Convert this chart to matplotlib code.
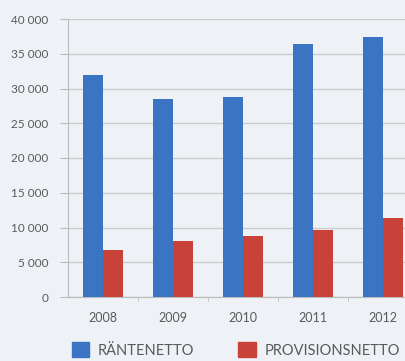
import numpy as np
import matplotlib
matplotlib.use('Agg')
import matplotlib.pyplot as plt
from matplotlib.patches import Patch

years = ['2008', '2009', '2010', '2011', '2012']
rantenetto = [32000, 28500, 28800, 36400, 37400]
provisionsnetto = [6700, 8000, 8800, 9600, 11400]
yticks = [0, 5000, 10000, 15000, 20000, 25000, 30000, 35000, 40000]

plt.rcParams['font.family'] = ['Lato', 'DejaVu Sans']

bg = '#eef2f6'
blue = '#3b74c2'
red = '#c8423a'

fig = plt.figure(figsize=(4.06, 3.61), dpi=100, facecolor=bg)
ax = fig.add_axes([68 / 406, 1 - 297 / 361, (406 - 68) / 406, 278 / 361])
ax.set_facecolor(bg)

x = np.arange(len(years))
w = 20 / 70
ax.bar(x - w / 2, rantenetto, w, color=blue, zorder=3)
ax.bar(x + w / 2, provisionsnetto, w, color=red, zorder=3)

ax.set_ylim(0, 40000)
ax.set_xlim(-0.5, (406 - 68) / 70 - 0.5)
ax.set_yticks(yticks)
ax.set_yticklabels([f'{v:,}'.replace(',', ' ') for v in yticks],
                   fontsize=8.5, color='#5a5a5a')
ax.yaxis.grid(True, color='#cccccc', linewidth=1, zorder=0)

ax.set_xticks(x)
ax.set_xticklabels(years, fontsize=9, color='#5a5a5a')
ax.set_xticks(x[:-1] + 0.5, minor=True)
ax.tick_params(axis='x', which='major', length=0, pad=11)
ax.tick_params(axis='x', which='minor', length=3, color='#bbbbbb')
ax.tick_params(axis='y', length=6, color='#bbbbbb', pad=8)

for s in ['top', 'right']:
    ax.spines[s].set_visible(False)
ax.spines['left'].set_color('#bbbbbb')
ax.spines['bottom'].set_color('#bbbbbb')

handles = [Patch(color=blue, label='RÄNTENETTO'),
           Patch(color=red, label='PROVISIONSNETTO')]
fig.legend(handles=handles, loc='center', bbox_to_anchor=(236 / 406, 1 - 350 / 361),
           ncol=2, frameon=False, fontsize=10.5, handlelength=1.2, handleheight=1.2,
           columnspacing=3.0, handletextpad=0.6, labelcolor='#5a5a5a',
           borderpad=0, borderaxespad=0)

fig.savefig('out.png', dpi=100, facecolor=bg)
